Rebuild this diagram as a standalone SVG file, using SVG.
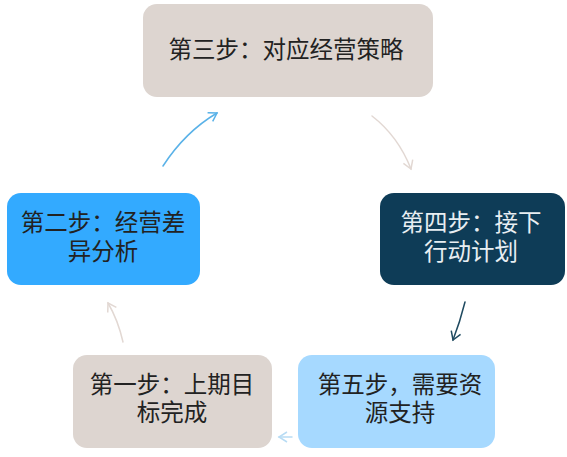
<svg xmlns="http://www.w3.org/2000/svg" width="567" height="457" viewBox="0 0 567 457">
<style>
.t{font-family:"Liberation Serif","Noto Sans CJK SC",serif;font-size:23.5px;text-anchor:middle;dominant-baseline:central}
.dark{fill:#222}
.light{fill:#e8eef2}
.c{fill:none;stroke-width:1.5;stroke-linecap:round}
</style>
<defs>
<marker id="ab" markerWidth="12" markerHeight="12" refX="9" refY="6" orient="auto" markerUnits="userSpaceOnUse"><path d="M1,1 L9,6 L1,11" fill="none" stroke="#5ab2e8" stroke-width="1.5"/></marker>
<marker id="ag" markerWidth="12" markerHeight="12" refX="9" refY="6" orient="auto" markerUnits="userSpaceOnUse"><path d="M1,1 L9,6 L1,11" fill="none" stroke="#e2d8d3" stroke-width="1.5"/></marker>
<marker id="ad" markerWidth="12" markerHeight="12" refX="9" refY="6" orient="auto" markerUnits="userSpaceOnUse"><path d="M1,1 L9,6 L1,11" fill="none" stroke="#1f4a60" stroke-width="1.5"/></marker>
<marker id="al" markerWidth="12" markerHeight="12" refX="9" refY="6" orient="auto" markerUnits="userSpaceOnUse"><path d="M1,1 L9,6 L1,11" fill="none" stroke="#b8dcf4" stroke-width="1.5"/></marker>
</defs>
<rect width="567" height="457" fill="#ffffff"/>
<g id="connectors">
<path class="c" d="M163,166 Q185,132 217,113" stroke="#5ab2e8" marker-end="url(#ab)"/>
<path class="c" d="M372,116 Q398,136 411,169" stroke="#e2d8d3" marker-end="url(#ag)"/>
<path class="c" d="M465,302 Q460,322 453,340" stroke="#1f4a60" marker-end="url(#ad)"/>
<path class="c" d="M292,437 L279,437" stroke="#b8dcf4" marker-end="url(#al)"/>
<path class="c" d="M123,342 Q118,320 108,303" stroke="#e2d8d3" marker-end="url(#ag)"/>
</g>
<g id="step3">
<rect x="143" y="4" width="290" height="93" rx="14" fill="#ddd5d0"/>
<text class="t dark" x="286" y="50">第三步：对应经营策略</text>
</g>
<g id="step2">
<rect x="7" y="193" width="193" height="92" rx="14" fill="#33aaff"/>
<text class="t dark" x="103" y="223">第二步：经营差</text>
<text class="t dark" x="103" y="252">异分析</text>
</g>
<g id="step4">
<rect x="380" y="193" width="185" height="92" rx="14" fill="#0e3c57"/>
<text class="t light" x="471" y="223">第四步：接下</text>
<text class="t light" x="471" y="252">行动计划</text>
</g>
<g id="step1">
<rect x="73" y="355" width="199" height="93" rx="14" fill="#ddd5d0"/>
<text class="t dark" x="172" y="385">第一步：上期目</text>
<text class="t dark" x="172" y="413">标完成</text>
</g>
<g id="step5">
<rect x="298" y="355" width="197" height="93" rx="14" fill="#a6d9ff"/>
<text class="t dark" x="400" y="385">第五步，需要资</text>
<text class="t dark" x="400" y="413">源支持</text>
</g>
</svg>
